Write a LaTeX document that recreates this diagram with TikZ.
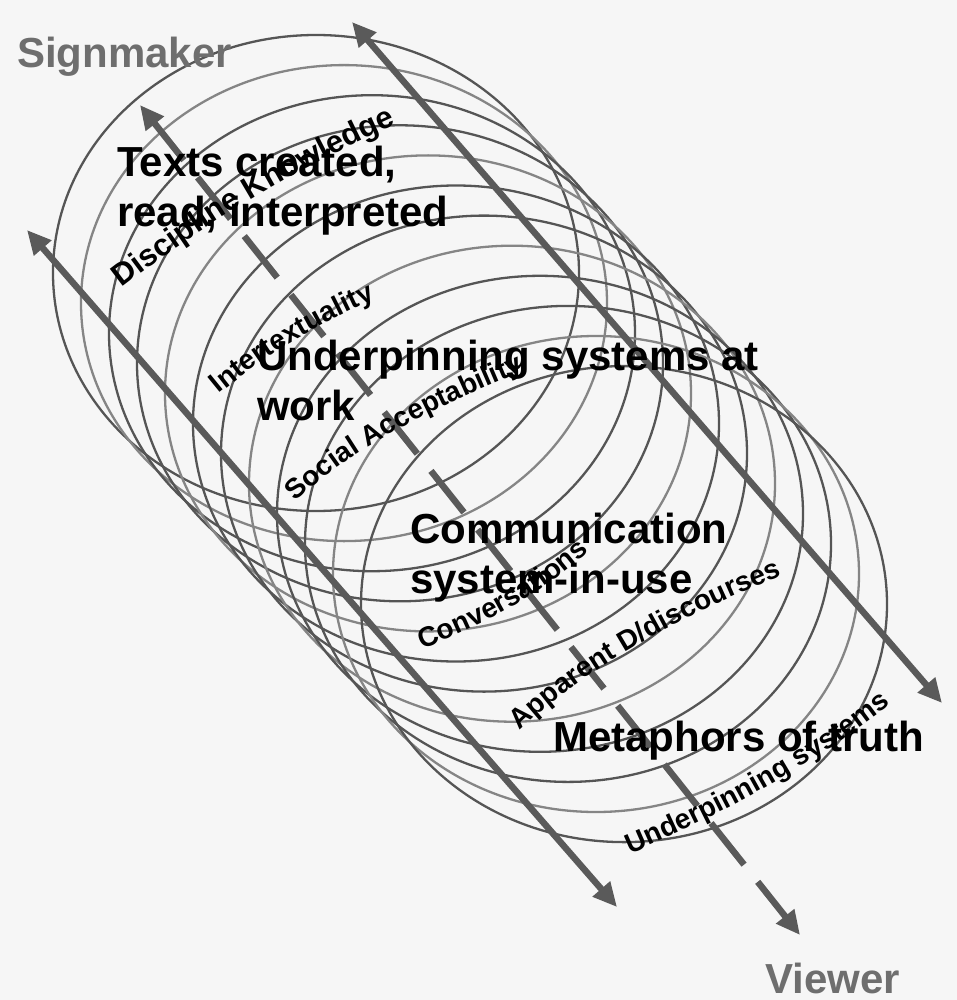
\documentclass[tikz,border=0pt]{standalone}
\usepackage{fontspec}
\setmainfont{Liberation Sans}
\usetikzlibrary{arrows.meta,decorations.text}
\definecolor{bgc}{HTML}{F6F6F6}
\definecolor{ringc}{HTML}{555555}
\definecolor{arrc}{HTML}{5A5A5A}
\definecolor{endc}{HTML}{6E6E6E}
\begin{document}
\begin{tikzpicture}[x=1pt,y=-1pt,
  ring/.style={line width=2.3pt},
  bigarrow/.style={draw=arrc, line width=6.5pt,
    {Triangle[length=24pt,width=22pt]}-{Triangle[length=24pt,width=22pt]}},
  big/.style={font=\bfseries\fontsize{42}{50}\selectfont, inner sep=0pt, anchor=base west, text=black},
  endlabel/.style={font=\bfseries\fontsize{42}{50}\selectfont, inner sep=0pt, anchor=base west, text=endc},
  arclabel/.style={decorate, decoration={text along path,
    text={|\bfseries\fontsize{28}{30}\selectfont|#1}}},
  arclabelbig/.style={decorate, decoration={text along path,
    text={|\bfseries\fontsize{31}{33}\selectfont|#1}}}
]
\useasboundingbox (0,0) rectangle (957,1000);
\fill[bgc] (0,0) rectangle (957,1000);
% rings of the coil
\foreach \i in {0,...,11}{
  \pgfmathsetmacro\cx{316+28*\i}
  \pgfmathsetmacro\cy{273+30.1*\i}
  \pgfmathsetmacro\sh{mod(\i,3)==1 ? 72 : 100}
  \draw[ring, draw=ringc!\sh!white] (\cx,\cy) ellipse [x radius=263pt, y radius=238pt];
}
% arrows
\coordinate (LT) at (27,230);  \coordinate (LB) at (617,907);
\coordinate (MT) at (140,105); \coordinate (MB) at (800,935);
\coordinate (RT) at (352,22);  \coordinate (RB) at (942,703);
\draw[bigarrow] (LB) -- (LT);
\draw[bigarrow, dash pattern=on 53pt off 22pt, dash phase=5pt] (MT) -- (MB);
\draw[bigarrow] (RB) -- (RT);
% end labels
\node[endlabel] (signmaker) at (17,68) {Signmaker};
\node[endlabel] (viewer) at (765,993) {Viewer};
% main labels
\node[big] (texts) at (117,177) {\begin{tabular}[t]{@{}l@{}}Texts created,\\read, interpreted\end{tabular}};
\node[big] (under) at (257,370) {\begin{tabular}[t]{@{}l@{}}Underpinning systems at\\work\end{tabular}};
\node[big] (comm) at (410,543) {\begin{tabular}[t]{@{}l@{}}Communication\\system-in-use\end{tabular}};
\node[big] (meta) at (553,751) {Metaphors of truth};
% curved labels
\path[arclabelbig={Discipline Knowledge}] (122,288) .. controls (200,228) and (290,168) .. (440,105);
\path[arclabel={Intertextuality}] (219,394) .. controls (270,352) and (330,315) .. (420,280);
\path[arclabel={Social Acceptability}] (296,502) .. controls (350,447) and (450,398) .. (590,345);
\path[arclabel={Conversations}] (422,649) .. controls (490,622) and (560,590) .. (640,500);
\path[arclabel={Apparent D/discourses}] (520,731) .. controls (580,672) and (700,600) .. (830,560);
\path[arclabel={Underpinning systems}] (630,854) .. controls (720,815) and (820,765) .. (920,680);
\end{tikzpicture}
\end{document}
